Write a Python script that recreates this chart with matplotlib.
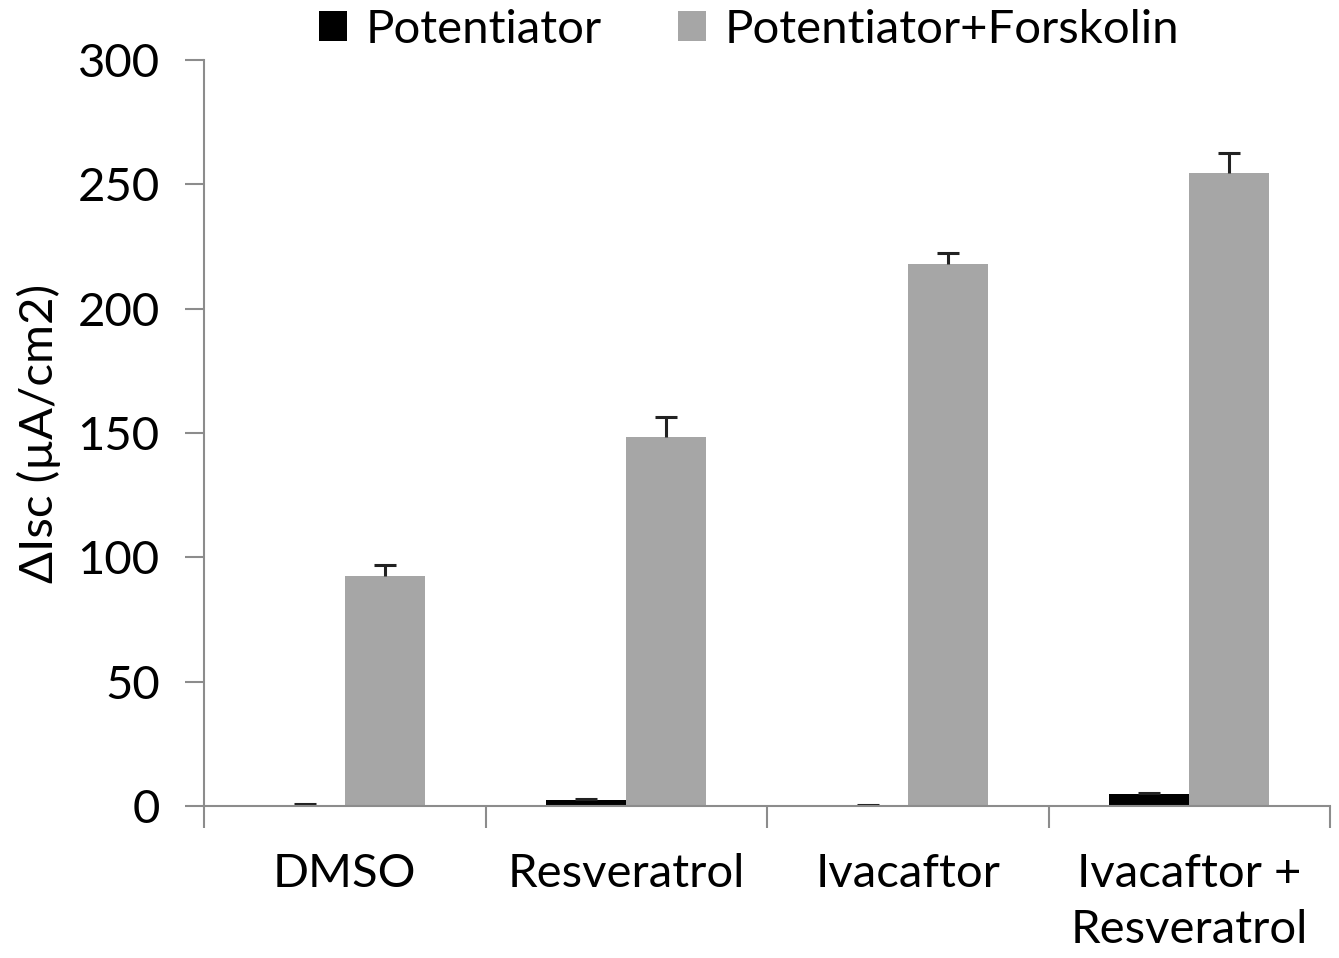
import numpy as np
import matplotlib.pyplot as plt

# short-circuit current response per treatment
groups = ['DMSO', 'Resveratrol', 'Ivacaftor', 'Ivacaftor +\nResveratrol']
potentiator = [0.4, 2.4, 0.3, 4.8]
potentiator_err = [0.3, 0.5, 0.2, 0.6]
pot_forskolin = [92.5, 148.5, 218, 254.5]
pot_forskolin_err = [4.5, 8.0, 4.5, 8.0]

plt.rcParams['font.family'] = ['Lato', 'DejaVu Sans']
fs = 34

fig = plt.figure(figsize=(13.39, 9.58), dpi=100)
ax = fig.add_axes([0.1524, 0.1587, 0.841, 0.7787])

x = np.arange(len(groups))
w = 0.284
errkw = dict(ecolor='#222222', elinewidth=2.2, capsize=8, capthick=2.2)
b1 = ax.bar(x - w / 2, potentiator, w, color='black', label='Potentiator',
            yerr=[np.zeros(4), potentiator_err], error_kw=errkw)
b2 = ax.bar(x + w / 2, pot_forskolin, w, color='#a6a6a6', label='Potentiator+Forskolin',
            yerr=[np.zeros(4), pot_forskolin_err], error_kw=errkw)
# plus-only error bars: hide the lower caps
for b in (b1, b2):
    b.errorbar.lines[1][0].set_visible(False)

ax.set_xlim(-0.5, 3.5)
ax.set_ylim(0, 300)
ax.set_yticks([0, 50, 100, 150, 200, 250, 300])

# category boundary ticks, labels centred between them
ax.set_xticks(np.arange(-0.5, 4.0, 1.0))
ax.set_xticklabels([])
ax.set_xticks(x, minor=True)
ax.set_xticklabels(groups, minor=True, fontsize=fs, linespacing=1.4)
ax.tick_params(axis='x', which='major', length=16, width=1.5, color='#8c8c8c')
ax.tick_params(axis='x', which='minor', length=0, pad=34)
ax.tick_params(axis='y', length=14, width=1.5, color='#8c8c8c', labelsize=fs, pad=18)

for s in ['top', 'right']:
    ax.spines[s].set_visible(False)
for s in ['left', 'bottom']:
    ax.spines[s].set_color('#8c8c8c')
    ax.spines[s].set_linewidth(1.5)

ax.set_ylabel('ΔIsc (µA/cm2)', fontsize=fs, labelpad=12)

ax.legend(loc='center', bbox_to_anchor=(0.484, 1.04), ncol=2, frameon=False,
          fontsize=fs, handlelength=0.6, handleheight=0.6, handletextpad=0.4,
          columnspacing=1.6)

fig.savefig('out.png', dpi=100)
